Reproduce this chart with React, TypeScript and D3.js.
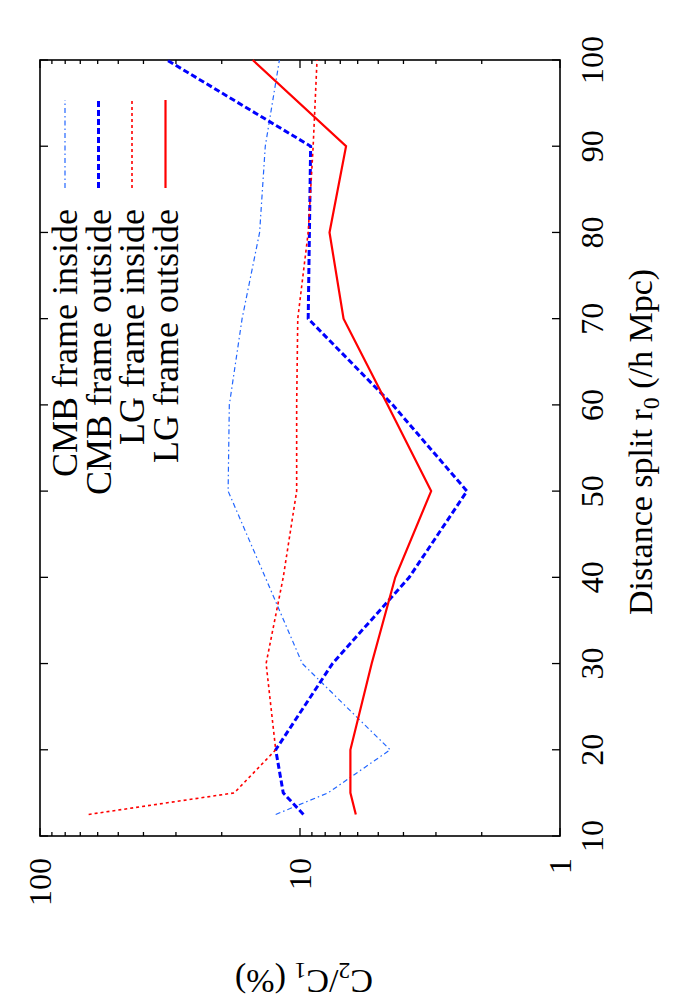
import { useEffect, useRef } from 'react'
import * as d3 from 'd3'

// distance split r0 (/h Mpc)
const r0Values = [12.5, 15, 20, 30, 40, 50, 60, 70, 80, 90, 100]

// C2/C1 (%) for each series
const cmbInside = [12.4, 7.8, 4.5, 9.8, 13.6, 18.9, 18.7, 16.7, 14.3, 13.6, 12.0]
const cmbOutside = [9.7, 11.6, 12.4, 7.5, 3.8, 2.28, 4.4, 9.3, 9.2, 9.1, 32.5]
const lgInside = [65, 17.9, 12.4, 13.5, 11.6, 10.3, 10.3, 10.2, 9.3, 8.9, 8.6]
const lgOutside = [6.1, 6.4, 6.4, 5.3, 4.3, 3.13, 4.6, 6.8, 7.7, 6.65, 15.2]

const xTicks = [10, 20, 30, 40, 50, 60, 70, 80, 90, 100]
const yMajorTicks = [1, 10, 100]

const seriesNames = ['CMB frame inside', 'CMB frame outside', 'LG frame inside', 'LG frame outside']

function App() {
  const svgRef = useRef<SVGSVGElement | null>(null)

  useEffect(() => {
    if (!svgRef.current) return
    const root = d3.select(svgRef.current)
    root.selectAll('*').remove()

    const H = 1000
    const font = '"Liberation Serif", "Times New Roman", serif'
    const fs = 32      // tick labels
    const fsTitle = 34 // axis titles
    const fsKey = 36   // legend

    // chart is drawn unrotated, then turned 90 degrees counter-clockwise
    const svg = root.append('g').attr('transform', `translate(0,${H}) rotate(-90)`)

    const x = d3.scaleLinear().domain([10, 100]).range([164, 940])
    const y = d3.scaleLog().domain([1, 100]).range([560, 40])
    const [x0, x1] = x.range()
    const [y0, y1] = y.range()

    // ticks on x (top and bottom)
    xTicks.forEach(t => {
      svg.append('line').attr('x1', x(t)).attr('x2', x(t)).attr('y1', y0).attr('y2', y0 - 8)
        .attr('stroke', '#000').attr('stroke-width', 1.3)
      svg.append('line').attr('x1', x(t)).attr('x2', x(t)).attr('y1', y1).attr('y2', y1 + 8)
        .attr('stroke', '#000').attr('stroke-width', 1.3)
      svg.append('text')
        .attr('x', x(t)).attr('y', y0 + 43)
        .attr('text-anchor', 'middle')
        .style('font-family', font).style('font-size', `${fs}px`)
        .text(t)
    })

    // log ticks on y (left and right)
    const minor: number[] = []
    ;[1, 10].forEach(dec => { for (let k = 2; k <= 9; k++) minor.push(dec * k) })
    minor.forEach(t => {
      svg.append('line').attr('x1', x0).attr('x2', x0 + 4).attr('y1', y(t)).attr('y2', y(t))
        .attr('stroke', '#000').attr('stroke-width', 1.3)
      svg.append('line').attr('x1', x1).attr('x2', x1 - 4).attr('y1', y(t)).attr('y2', y(t))
        .attr('stroke', '#000').attr('stroke-width', 1.3)
    })
    yMajorTicks.forEach(t => {
      svg.append('line').attr('x1', x0).attr('x2', x0 + 8).attr('y1', y(t)).attr('y2', y(t))
        .attr('stroke', '#000').attr('stroke-width', 1.3)
      svg.append('line').attr('x1', x1).attr('x2', x1 - 8).attr('y1', y(t)).attr('y2', y(t))
        .attr('stroke', '#000').attr('stroke-width', 1.3)
      svg.append('text')
        .attr('x', x0 - 22).attr('y', y(t)).attr('dy', '0.33em')
        .attr('text-anchor', 'end')
        .style('font-family', font).style('font-size', `${fs}px`)
        .text(t)
    })

    // frame
    svg.append('rect').attr('x', x0).attr('y', y1).attr('width', x1 - x0).attr('height', y0 - y1)
      .attr('fill', 'none').attr('stroke', '#000').attr('stroke-width', 1.6)

    // axis titles
    const xt = svg.append('text')
      .attr('x', 558).attr('y', y0 + 92)
      .attr('text-anchor', 'middle')
      .style('font-family', font).style('font-size', `${fsTitle}px`)
    xt.append('tspan').text('Distance split r')
    xt.append('tspan').attr('dy', 7).style('font-size', `${fsTitle * 0.7}px`).text('0')
    xt.append('tspan').attr('dy', -7).text(' (/h Mpc)')

    const yt = svg.append('text')
      .attr('transform', `translate(30,${(y0 + y1) / 2 + 4}) rotate(-90)`)
      .attr('text-anchor', 'middle')
      .style('font-family', font).style('font-size', `${fsTitle}px`)
    yt.append('tspan').text('C')
    yt.append('tspan').attr('dy', 7).style('font-size', `${fsTitle * 0.7}px`).text('2')
    yt.append('tspan').attr('dy', -7).text('/C')
    yt.append('tspan').attr('dy', 7).style('font-size', `${fsTitle * 0.7}px`).text('1')
    yt.append('tspan').attr('dy', -7).text(' (%)')

    const styles = [
      { data: cmbInside, color: '#2266ff', width: 1.2, dash: '5,3,1.5,3' },
      { data: cmbOutside, color: '#0000ff', width: 3, dash: '6,3' },
      { data: lgInside, color: '#ff0000', width: 1.6, dash: '3,3' },
      { data: lgOutside, color: '#ff0000', width: 2.2, dash: null as string | null },
    ]

    const line = d3.line<number>()
      .x((_, i) => x(r0Values[i]))
      .y(d => y(d))

    styles.forEach(s => {
      svg.append('path')
        .datum(s.data)
        .attr('fill', 'none')
        .attr('stroke', s.color)
        .attr('stroke-width', s.width)
        .attr('stroke-dasharray', s.dash)
        .attr('d', line)
    })

    // legend
    styles.forEach((s, i) => {
      const ly = 65 + 33.5 * i
      svg.append('line')
        .attr('x1', 812).attr('x2', 900).attr('y1', ly).attr('y2', ly)
        .attr('stroke', s.color).attr('stroke-width', s.width)
        .attr('stroke-dasharray', s.dash)
      svg.append('text')
        .attr('x', 791).attr('y', ly + 12)
        .attr('text-anchor', 'end')
        .style('font-family', font).style('font-size', `${fsKey}px`)
        .text(seriesNames[i])
    })
  }, [])

  return (
    <svg
      ref={svgRef}
      width={700}
      height={1000}
      style={{ position: 'absolute', left: 0, top: 0, background: '#fff' }}
    />
  )
}

export default App
